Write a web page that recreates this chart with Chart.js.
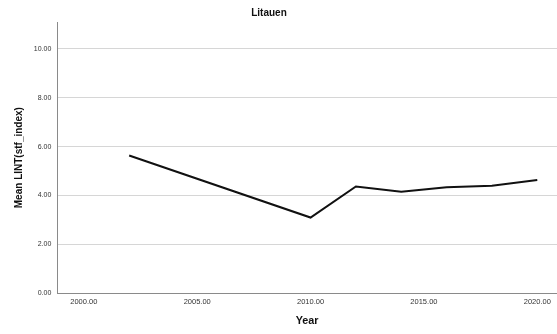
<!DOCTYPE html>
<html>
<head>
<meta charset="utf-8">
<script src="https://cdn.jsdelivr.net/npm/chart.js@4/dist/chart.umd.min.js"></script>
<style>
  html, body { margin: 0; padding: 0; background: #fff; }
  #wrap { width: 557px; height: 334px; position: relative; }
</style>
</head>
<body>
<div id="wrap"><canvas id="c"></canvas></div>
<script>
const chartTitle = "Litauen";
const years = [2002, 2010, 2012, 2014, 2016, 2018, 2020];
const meanValues = [5.64, 3.10, 4.37, 4.15, 4.34, 4.40, 4.64];
const xTickValues = [2000, 2005, 2010, 2015, 2020];
const yTickValues = [0, 2, 4, 6, 8, 10];
const xTitle = "Year";
const yTitle = "Mean LINT(stf_index)";

const titlePlugin = {
  id: 'spssTitle',
  afterDraw(chart) {
    const ctx = chart.ctx;
    ctx.save();
    ctx.font = 'bold 10px "Liberation Sans", Arial, sans-serif';
    ctx.fillStyle = '#111';
    ctx.textAlign = 'center';
    ctx.textBaseline = 'middle';
    ctx.fillText(chartTitle, 269, 13);
    ctx.restore();
  }
};

new Chart(document.getElementById('c'), {
  type: 'line',
  data: {
    datasets: [{
      data: years.map((y, i) => ({ x: y, y: meanValues[i] })),
      borderColor: '#111',
      borderWidth: 2,
      pointRadius: 0,
      tension: 0,
      fill: false
    }]
  },
  options: {
    responsive: true,
    maintainAspectRatio: false,
    animation: false,
    layout: { padding: { top: 22, left: 0, right: 0, bottom: 0 } },
    plugins: { legend: { display: false }, tooltip: { enabled: false }, title: { display: false } },
    scales: {
      x: {
        type: 'linear',
        min: 1998.83,
        max: 2020.87,
        afterBuildTicks: s => { s.ticks = xTickValues.map(v => ({ value: v })); },
        afterFit: s => { s.height = 40.7; },
        grid: { display: false, drawTicks: false },
        border: { display: true, color: '#8a8a8a', width: 1 },
        ticks: {
          padding: 4,
          color: '#333',
          font: { family: '"Liberation Sans", Arial, sans-serif', size: 7.5 },
          maxRotation: 0,
          callback: v => Number(v).toFixed(2)
        },
        title: {
          display: true,
          text: xTitle,
          color: '#111',
          font: { family: '"Liberation Sans", Arial, sans-serif', size: 10.8, weight: 'bold' },
          padding: { top: 0, bottom: 6.7 }
        }
      },
      y: {
        type: 'linear',
        min: 0,
        max: 11.1,
        afterBuildTicks: s => { s.ticks = yTickValues.map(v => ({ value: v })); },
        afterFit: s => { s.width = 57.3; },
        grid: { display: true, color: '#d6d6d6', lineWidth: 1, drawTicks: false },
        border: { display: true, color: '#8a8a8a', width: 1 },
        ticks: {
          padding: 6,
          color: '#333',
          font: { family: '"Liberation Sans", Arial, sans-serif', size: 7 },
          callback: v => Number(v).toFixed(2)
        },
        title: {
          display: true,
          text: yTitle,
          color: '#111',
          font: { family: '"Liberation Sans", Arial, sans-serif', size: 10, weight: 'bold' },
          padding: { top: 13.4, bottom: 0 }
        }
      }
    }
  },
  plugins: [titlePlugin]
});
</script>
</body>
</html>
